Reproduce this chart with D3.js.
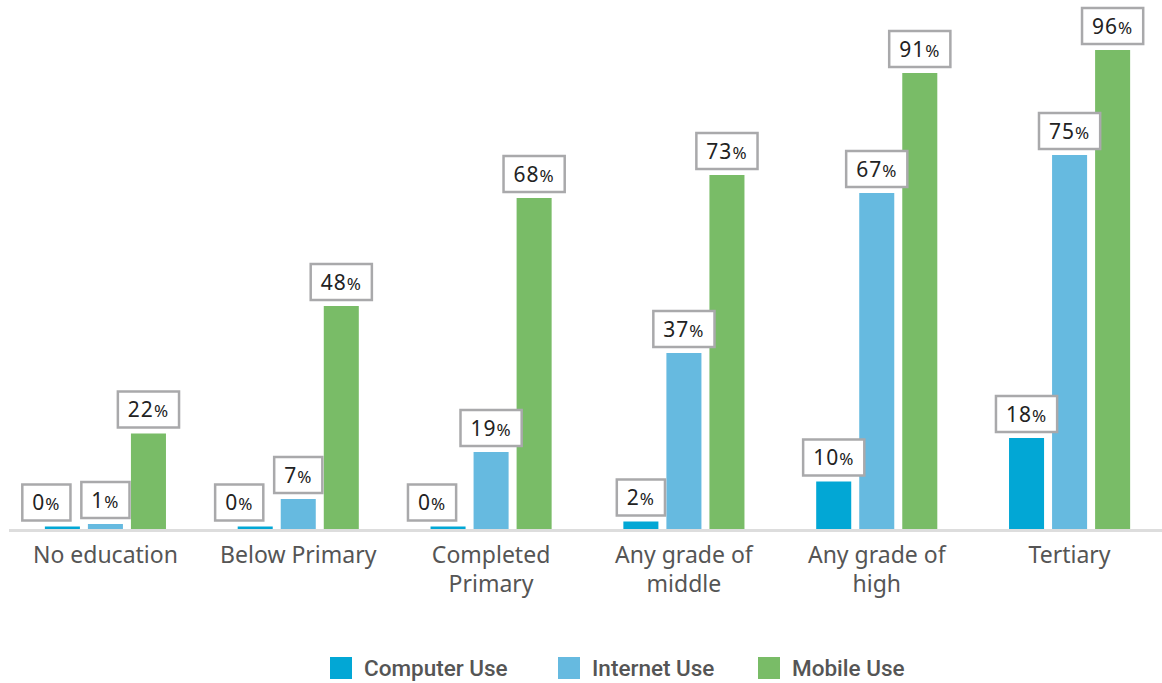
<!DOCTYPE html>
<html>
<head>
<meta charset="utf-8">
<script src="https://cdn.jsdelivr.net/npm/d3@7"></script>
<style>
  body { margin: 0; background: #fff; }
  svg { display: block; }
</style>
</head>
<body>
<div id="chart"></div>
<script>
// Categories and series
const categories = ["No education", "Below Primary", "Completed Primary", "Any grade of middle", "Any grade of high", "Tertiary"];
const seriesNames = ["Computer Use", "Internet Use", "Mobile Use"];

// bar heights as drawn in the picture (%)
const computerUse = [0.5, 0.5, 0.5, 1.5, 9.5, 18.2];
const internetUse = [1, 6, 15.4, 35.2, 67.2, 74.8];
const mobileUse = [19.1, 44.6, 66.2, 70.8, 91.2, 95.8];

// label texts printed above the bars
const computerLabels = ["0%", "0%", "0%", "2%", "10%", "18%"];
const internetLabels = ["1%", "7%", "19%", "37%", "67%", "75%"];
const mobileLabels = ["22%", "48%", "68%", "73%", "91%", "96%"];

const width = 1162;
const height = 683;

const svg = d3.select("#chart").append("svg")
  .attr("width", width)
  .attr("height", height);

const color = d3.scaleOrdinal()
  .domain(seriesNames)
  .range(["#02a7d5", "#66bae0", "#79bc67"]);

// Scales
const x0 = d3.scaleBand()
  .domain(categories)
  .range([9, 1166])
  .paddingInner(0.372)
  .paddingOuter(0.186);

const x1 = d3.scaleBand()
  .domain(seriesNames)
  .range([0, x0.bandwidth()])
  .paddingInner(0.186);

const y = d3.scaleLinear()
  .domain([0, 100])
  .range([529, 29]);

const rows = categories.map((c, i) => ({
  category: c,
  values: [
    { series: seriesNames[0], value: computerUse[i], label: computerLabels[i] },
    { series: seriesNames[1], value: internetUse[i], label: internetLabels[i] },
    { series: seriesNames[2], value: mobileUse[i], label: mobileLabels[i] }
  ]
}));

// Baseline
svg.append("line")
  .attr("x1", 9)
  .attr("x2", width)
  .attr("y1", y(0) + 1.5)
  .attr("y2", y(0) + 1.5)
  .attr("stroke", "#dddddd")
  .attr("stroke-width", 3);

// Bars
const groups = svg.selectAll(".group")
  .data(rows)
  .join("g")
  .attr("class", "group")
  .attr("transform", (d) => `translate(${x0(d.category)},0)`);

groups.selectAll("rect")
  .data((d) => d.values)
  .join("rect")
  .attr("x", (d) => x1(d.series))
  .attr("y", (d) => y(d.value))
  .attr("width", x1.bandwidth())
  .attr("height", (d) => y(0) - y(d.value))
  .attr("fill", (d) => color(d.series));

// Value labels in boxes
const labelFont = "'Noto Sans', sans-serif";
const boxH = 36;

groups.selectAll(".vlabel")
  .data((d) => d.values)
  .join("g")
  .attr("class", "vlabel")
  .each(function (d) {
    const g = d3.select(this);
    // zero bars get their box pushed to the left
    const shift = d.label === "0%" ? -16 : 0;
    const cx = x1(d.series) + x1.bandwidth() / 2 + shift;
    const bottom = y(d.value) - 6;

    const rect = g.append("rect")
      .attr("fill", "#fff")
      .attr("stroke", "#a9a9ab")
      .attr("stroke-width", 2.5);

    const txt = g.append("text")
      .attr("x", cx)
      .attr("y", bottom - boxH / 2 + 7.5)
      .attr("text-anchor", "middle")
      .attr("font-family", labelFont)
      .attr("font-size", 21)
      .attr("letter-spacing", 1)
      .attr("fill", "#222");
    txt.append("tspan").text(d.label.replace("%", ""));
    txt.append("tspan").attr("font-size", 17).text("%");

    const w = txt.node().getComputedTextLength() + 20;
    rect
      .attr("x", cx - w / 2)
      .attr("y", bottom - boxH)
      .attr("width", w)
      .attr("height", boxH);
  });

// X axis labels
const xAxis = svg.append("g")
  .attr("transform", `translate(0,${y(0)})`)
  .call(d3.axisBottom(x0).tickSize(0).tickPadding(0));
xAxis.select(".domain").remove();

xAxis.selectAll("text")
  .attr("font-family", labelFont)
  .attr("font-size", 23)
  .attr("fill", "#555")
  .attr("dy", null)
  .attr("y", 34)
  .each(function (d) {
    const t = d3.select(this);
    const words = d.split(" ");
    t.text(null);
    let line = [];
    let lineNo = 0;
    let tspan = t.append("tspan").attr("x", 0).attr("y", 34);
    words.forEach((w) => {
      line.push(w);
      tspan.text(line.join(" "));
      if (tspan.node().getComputedTextLength() > 176 && line.length > 1) {
        line.pop();
        tspan.text(line.join(" "));
        line = [w];
        lineNo++;
        tspan = t.append("tspan").attr("x", 0).attr("y", 34 + lineNo * 29).text(w);
      }
    });
  });

// Legend
const legendX = [330, 558, 758];
const legend = svg.append("g").attr("class", "legend");
seriesNames.forEach((s, i) => {
  const item = legend.append("g").attr("transform", `translate(${legendX[i]},657)`);
  item.append("rect")
    .attr("width", 22)
    .attr("height", 22)
    .attr("fill", color(s));
  item.append("text")
    .attr("x", 34)
    .attr("y", 19)
    .attr("font-family", "Roboto, sans-serif")
    .attr("font-weight", 500)
    .attr("font-size", 22.5)
    .attr("fill", "#555")
    .text(s);
});
</script>
</body>
</html>
